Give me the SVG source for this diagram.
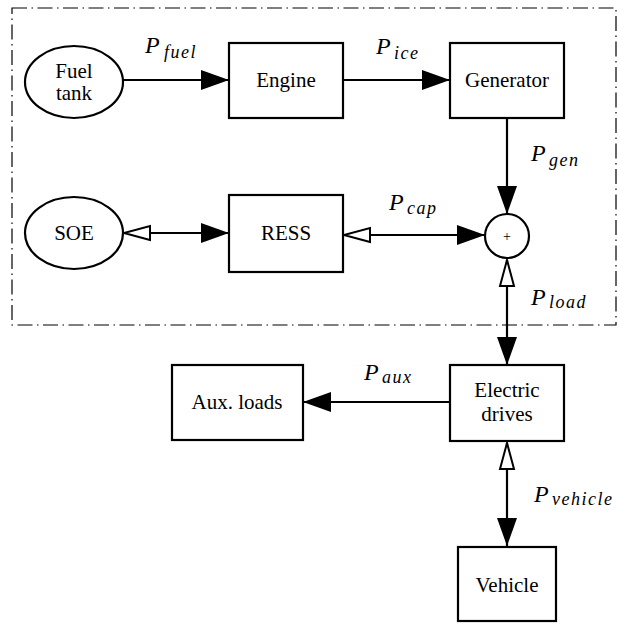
<svg xmlns="http://www.w3.org/2000/svg" width="618" height="625" viewBox="0 0 618 625">
<style>
.box{fill:#fff;stroke:#000;stroke-width:2.2}
.ln{fill:none;stroke:#000;stroke-width:2.2}
.border{fill:none;stroke:#000;stroke-width:1.2;stroke-dasharray:15 4.5 1.5 4.5}
.s{font-size:18px;letter-spacing:1.5px}
</style>
<defs>
<marker id="fa" markerUnits="userSpaceOnUse" markerWidth="30" markerHeight="22" refX="28" refY="10" orient="auto" overflow="visible">
<path d="M0,0 L28,10 L0,20 Z" fill="#000"/>
</marker>
<marker id="oa" markerUnits="userSpaceOnUse" markerWidth="30" markerHeight="18" refX="27" refY="7.5" orient="auto-start-reverse" overflow="visible">
<path d="M1,0.5 L27,7.5 L1,14.5 Z" fill="#fff" stroke="#000" stroke-width="2"/>
</marker>
</defs>
<rect class="border" x="12" y="8" width="604" height="317"/>
<g id="connectors">
<line class="ln" x1="123" y1="80" x2="229" y2="80" marker-end="url(#fa)"/>
<line class="ln" x1="343" y1="80" x2="450" y2="80" marker-end="url(#fa)"/>
<line class="ln" x1="507" y1="118" x2="507" y2="214" marker-end="url(#fa)"/>
<line class="ln" x1="124" y1="233" x2="229" y2="233" marker-start="url(#oa)" marker-end="url(#fa)"/>
<line class="ln" x1="344" y1="235" x2="485" y2="235" marker-start="url(#oa)" marker-end="url(#fa)"/>
<line class="ln" x1="507" y1="260" x2="507" y2="365" marker-start="url(#oa)" marker-end="url(#fa)"/>
<line class="ln" x1="450" y1="402" x2="303" y2="402" marker-end="url(#fa)"/>
<line class="ln" x1="507" y1="443" x2="507" y2="546" marker-start="url(#oa)" marker-end="url(#fa)"/>
</g>
<g id="labels" font-family="Liberation Serif" font-style="italic" fill="#000">
<text x="145" y="53" font-size="24">P</text><text class="s" x="164" y="58">fuel</text>
<text x="376" y="54" font-size="24">P</text><text class="s" x="394" y="59">ice</text>
<text x="531" y="161" font-size="24">P</text><text class="s" x="549" y="166">gen</text>
<text x="389" y="210" font-size="24">P</text><text class="s" x="407" y="214">cap</text>
<text x="531" y="305" font-size="24">P</text><text class="s" x="549" y="308">load</text>
<text x="364" y="380" font-size="24">P</text><text class="s" x="382" y="383">aux</text>
<text x="534" y="502" font-size="24">P</text><text class="s" x="552" y="505">vehicle</text>
</g>
<g font-family="Liberation Serif" font-size="21" text-anchor="middle" fill="#000">
<g id="fuel-tank">
<ellipse class="box" cx="74" cy="82" rx="49" ry="36"/>
<text x="74" y="78">Fuel</text>
<text x="74" y="100">tank</text>
</g>
<g id="engine">
<rect class="box" x="229" y="43" width="114" height="75"/>
<text x="286" y="87">Engine</text>
</g>
<g id="generator">
<rect class="box" x="450" y="43" width="114" height="75"/>
<text x="507" y="87">Generator</text>
</g>
<g id="soe">
<ellipse class="box" cx="74" cy="233" rx="49" ry="36"/>
<text x="74" y="240">SOE</text>
</g>
<g id="ress">
<rect class="box" x="229" y="195" width="114" height="77"/>
<text x="286" y="240">RESS</text>
</g>
<g id="sum">
<circle class="box" cx="507" cy="236" r="22"/>
<text x="507" y="241" font-size="14">+</text>
</g>
<g id="aux-loads">
<rect class="box" x="172" y="365" width="131" height="75"/>
<text x="237" y="409">Aux. loads</text>
</g>
<g id="electric-drives">
<rect class="box" x="450" y="365" width="114" height="76"/>
<text x="507" y="397">Electric</text>
<text x="507" y="421">drives</text>
</g>
<g id="vehicle">
<rect class="box" x="458" y="547" width="98" height="74"/>
<text x="507" y="592">Vehicle</text>
</g>
</g>
</svg>
